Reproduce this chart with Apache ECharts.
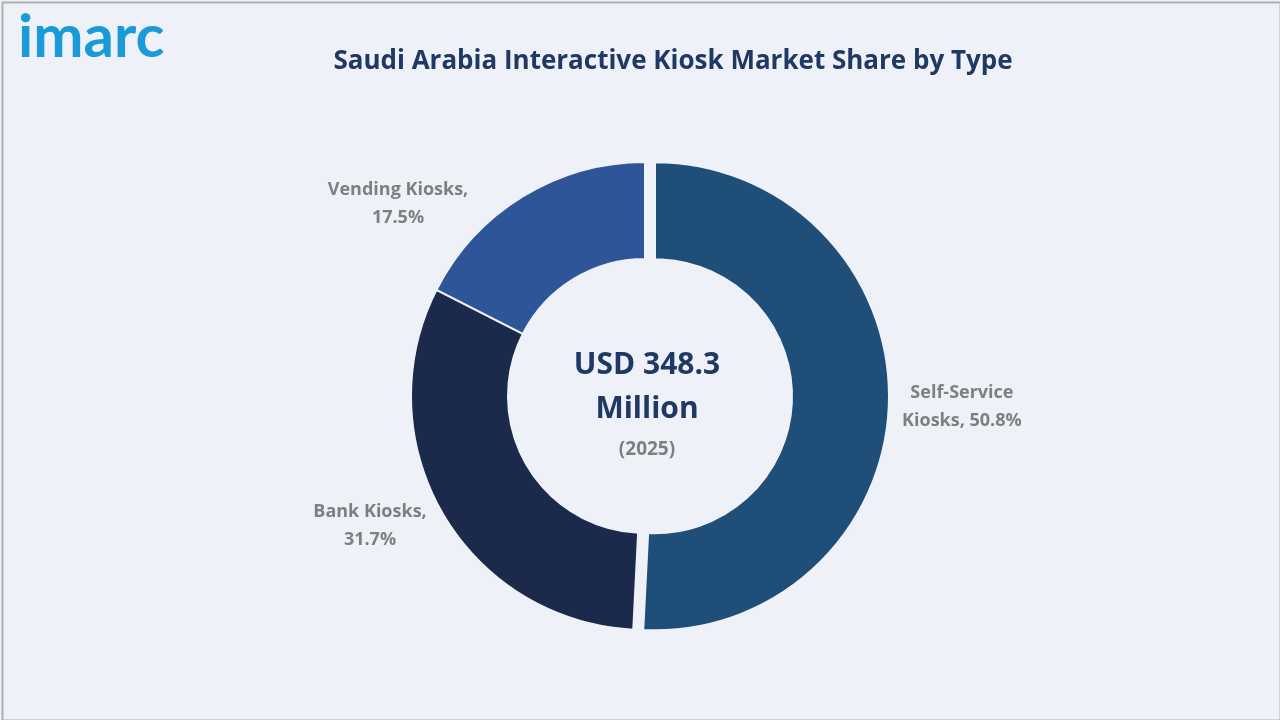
<!DOCTYPE html>
<html><head><meta charset="utf-8">
<script src="https://cdn.jsdelivr.net/npm/echarts@6/dist/echarts.min.js"></script>
<style>html,body{margin:0;padding:0;background:#eef2f8}#c{width:1280px;height:720px}</style>
</head><body><div id="c"></div>
<script>
const names = ['Self-Service Kiosks', 'Bank Kiosks', 'Vending Kiosks']
const shares = [50.8, 31.7, 17.5]
const colors = ['#1f4e79', '#1b2a4a', '#2e5597']

let chart = echarts.init(document.getElementById('c'))
let option = {
    backgroundColor: '#eef2f8',
    title: {
        text: 'Saudi Arabia Interactive Kiosk Market Share by Type',
        left: 668, top: 44, textAlign: 'center',
        textStyle: {color: '#1f3864', fontSize: 26, fontWeight: 'bold', fontFamily: 'Open Sans'}
    },
    graphic: [
        {type: 'rect', left: 0, top: 0, shape: {width: 1278, height: 718},
            style: {fill: 'none', stroke: '#b0b0b0', lineWidth: 2}},
        {type: 'text', x: 18, y: 8, style: {text: 'imarc', fill: '#1a9ad6', font: 'bold 60px Lato'}},
        {type: 'text', x: 647, y: 343, style: {text: 'USD 348.3\nMillion', fill: '#1f3864',
            font: 'bold 30px "Open Sans"', align: 'center', lineHeight: 44}},
        {type: 'text', x: 647, y: 440, style: {text: '(2025)', fill: '#7f7f7f', font: 'bold 19px "Open Sans"', align: 'center'}}
    ],
    series: [{
        type: 'pie',
        center: [645, 396],
        radius: [137, 234],
        startAngle: 90,
        selectedMode: 'single',
        selectedOffset: 10,
        itemStyle: {borderColor: '#eef2f8', borderWidth: 2},
        label: {
            position: 'outside',
            color: '#7f7f7f', fontSize: 18, fontWeight: 'bold', fontFamily: 'Open Sans', lineHeight: 28,
            formatter: p => p.dataIndex === 0
                ? 'Self-Service\nKiosks, ' + p.value + '%'
                : p.name + ',\n' + p.value + '%'
        },
        labelLine: {show: false},
        labelLayout: function (p) {
            let cx = [962, 370, 398][p.dataIndex]
            let dy = [4, 5, 20][p.dataIndex]
            return {x: cx, dy: dy, align: 'center'}
        },
        data: names.map((n, i) => ({
            name: n, value: shares[i], selected: i === 0, itemStyle: {color: colors[i]},
            label: i === 0 ? {padding: [0, 0, 0, 46]} : {}
        }))
    }]
}
chart.setOption(option)
</script></body></html>
